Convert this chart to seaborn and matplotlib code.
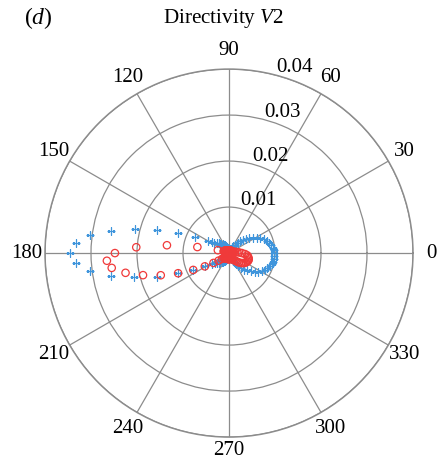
import numpy as np
import pandas as pd
import matplotlib
matplotlib.use("Agg")
import matplotlib.pyplot as plt
import seaborn as sns

plt.rcParams['font.family'] = ['Liberation Serif', 'DejaVu Serif']
plt.rcParams['mathtext.fontset'] = 'custom'
plt.rcParams['mathtext.rm'] = 'Liberation Serif'
plt.rcParams['mathtext.it'] = 'Liberation Serif:italic'

# ---- data (angles in degrees, sampled every 3.6 deg) ----
angle_step = 3.6
blue_r = [
    0.0098, 0.0098, 0.0096, 0.0093, 0.0090, 0.0086, 0.0081, 0.0075, 0.0069, 0.0062,
    0.0055, 0.0049, 0.0042, 0.0035, 0.0029, 0.0023, 0.0018, 0.0014, 0.0010, 0.0007,
    0.0005, 0.0004, 0.0004, 0.0005, 0.0006, 0.0006, 0.0006, 0.0008, 0.0010, 0.0012,
    0.0014, 0.0016, 0.0018, 0.0020, 0.0022, 0.0024, 0.0026, 0.0028, 0.0031, 0.0034,
    0.0039, 0.0045, 0.0053, 0.0082, 0.0119, 0.0164, 0.0212, 0.0261, 0.0305, 0.0333,
    0.0346, 0.0333, 0.0305, 0.0261, 0.0213, 0.0165, 0.0120, 0.0087, 0.0059, 0.0045,
    0.0038, 0.0033, 0.0030, 0.0027, 0.0025, 0.0023, 0.0021, 0.0019, 0.0017, 0.0015,
    0.0013, 0.0011, 0.0009, 0.0007, 0.0006, 0.0005, 0.0004, 0.0004, 0.0005, 0.0007,
    0.0010, 0.0014, 0.0018, 0.0023, 0.0029, 0.0035, 0.0042, 0.0049, 0.0055, 0.0062,
    0.0069, 0.0075, 0.0081, 0.0086, 0.0090, 0.0093, 0.0096, 0.0098, 0.0098, 0.0098,
]
red_r = [
    0.0028, 0.0022, 0.0018, 0.0014, 0.0011, 0.0009, 0.0008, 0.0007, 0.0007, 0.0006,
    0.0006, 0.0006, 0.0006, 0.0006, 0.0006, 0.0006, 0.0006, 0.0006, 0.0006, 0.0006,
    0.0006, 0.0006, 0.0006, 0.0006, 0.0006, 0.0006, 0.0006, 0.0006, 0.0006, 0.0006,
    0.0006, 0.0006, 0.0006, 0.0006, 0.0006, 0.0007, 0.0007, 0.0007, 0.0008, 0.0008,
    0.0009, 0.0010, 0.0010, 0.0011, 0.0012, 0.0012, 0.0025, 0.0070, 0.0136, 0.0202,
    0.0248, 0.0266, 0.0257, 0.0229, 0.0193, 0.0156, 0.0119, 0.0086, 0.0060, 0.0040,
    0.0028, 0.0020, 0.0016, 0.0014, 0.0013, 0.0013, 0.0013, 0.0013, 0.0013, 0.0013,
    0.0013, 0.0013, 0.0013, 0.0013, 0.0013, 0.0013, 0.0013, 0.0013, 0.0013, 0.0013,
    0.0013, 0.0013, 0.0014, 0.0014, 0.0016, 0.0019, 0.0022, 0.0026, 0.0030, 0.0034,
    0.0037, 0.0040, 0.0042, 0.0044, 0.0045, 0.0045, 0.0044, 0.0042, 0.0040, 0.0035,
]
theta_labels = ['0', '30', '60', '90', '120', '150', '180', '210', '240', '270', '300', '330']
r_ticks = [0.01, 0.02, 0.03, 0.04]
r_tick_labels = ['0.01', '0.02', '0.03', '0.04']
r_max = 0.04

theta_deg = np.arange(len(blue_r)) * angle_step
df_blue = pd.DataFrame({'theta': np.deg2rad(theta_deg), 'r': blue_r})
df_red = pd.DataFrame({'theta': np.deg2rad(theta_deg), 'r': red_r})

fig = plt.figure(figsize=(4.42, 4.63), dpi=100)
ax = fig.add_axes([0.1018, 0.056, 0.8326, 0.7948], projection='polar')
ax.set_theta_zero_location('E')
ax.set_theta_direction(1)

grid_col = '#8c8c8c'
sns.scatterplot(data=df_blue, x='theta', y='r', ax=ax, marker='+', s=30,
                color='#3f95dc', linewidths=0.9, zorder=3, legend=False)
sns.scatterplot(data=df_red, x='theta', y='r', ax=ax, marker='o', s=28,
                color='#f03a3a', facecolor='none', edgecolor='#f03a3a',
                linewidths=0.9, zorder=4, legend=False)

ax.set_xlabel('')
ax.set_ylabel('')
ax.set_ylim(0, r_max)
ax.set_yticks(r_ticks)
ax.set_yticklabels([])
ax.set_xticks(np.deg2rad(np.arange(0, 360, 30)))
ax.set_xticklabels([])
ax.grid(True, color=grid_col, lw=0.9, ls='-')
ax.spines['polar'].set_color(grid_col)
ax.spines['polar'].set_linewidth(1.1)
ax.set_facecolor('white')

fs = 15
for lab, ang in zip(theta_labels, np.arange(0, 360, 30)):
    rr = r_max * (1.075 if ang == 270 else 1.1)
    ax.text(np.deg2rad(ang), rr, lab, ha='center', va='center',
            fontsize=fs, clip_on=False)
for rv, lab in zip(r_ticks, r_tick_labels):
    ax.text(np.deg2rad(75), rv - 0.0004, lab, ha='left', va='bottom',
            fontsize=fs, clip_on=False)

fig.text(0.505, 0.960, r'Directivity $\mathit{V}$2', ha='center', va='center', fontsize=15.2)
fig.text(0.087, 0.962, r'($\mathit{d}$)', ha='center', va='center', fontsize=17)

fig.savefig('out.png', dpi=100)
